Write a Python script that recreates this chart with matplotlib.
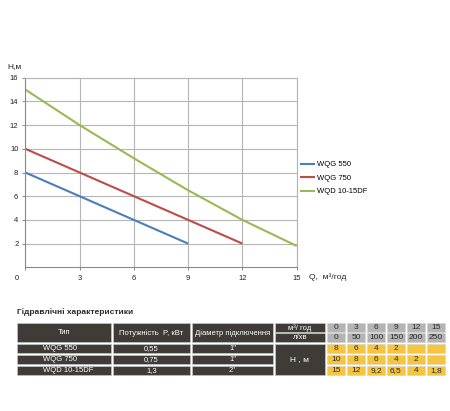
import matplotlib
matplotlib.use("Agg")
import matplotlib.pyplot as plt
from matplotlib.patches import Rectangle
from matplotlib.transforms import ScaledTranslation
from matplotlib import font_manager

# ---------------- data ----------------
q_values = [0, 3, 6, 9, 12, 15]
l_per_min = [0, 50, 100, 150, 200, 250]
series_names = ["WQG 550", "WQG 750", "WQD 10-15DF"]
h_wqg550 = [8, 6, 4, 2]
h_wqg750 = [10, 8, 6, 4, 2]
h_wqd = [15, 12, 9.2, 6.5, 4, 1.8]
powers = ["0,55", "0,75", "1,3"]
diameters = ['1"', '1"', '2"']
x_ticks = [0, 3, 6, 9, 12, 15]
y_ticks = [2, 4, 6, 8, 10, 12, 14, 16]
colors = ["#4a7ebb", "#be4b48", "#98b954"]

available = {f.name for f in font_manager.fontManager.ttflist}
chart_font = "Liberation Sans" if "Liberation Sans" in available else "DejaVu Sans"
table_font = "Liberation Sans Narrow" if "Liberation Sans Narrow" in available else chart_font
plt.rcParams["font.family"] = [chart_font, "DejaVu Sans"]

W, H = 450, 411
fig = plt.figure(figsize=(W / 100, H / 100), dpi=100)

# ---------------- chart ----------------
ax = fig.add_axes([25.3 / W, 1 - 267.3 / H, (296.7 - 25.3) / W, (267.3 - 77.7) / H])
all_h = [h_wqg550, h_wqg750, h_wqd]
for name, hs, c in zip(series_names, all_h, colors):
    ax.plot(q_values[:len(hs)], hs, color=c, lw=1.5, label=name, solid_capstyle="butt")
ax.set_xlim(0, 15)
ax.set_ylim(0, 16)
ax.set_xticks(x_ticks)
ax.set_yticks(y_ticks)
ax.set_xticklabels([str(v) for v in x_ticks])
ax.set_yticklabels([str(v) for v in y_ticks])
ax.grid(True, color="#b5b5b5", lw=0.8)
ax.set_axisbelow(True)
for s in ["top", "right"]:
    ax.spines[s].set_color("#b5b5b5")
    ax.spines[s].set_linewidth(0.8)
for s in ["left", "bottom"]:
    ax.spines[s].set_color("#8a8a8a")
    ax.spines[s].set_linewidth(0.8)
ax.tick_params(axis="both", length=2, width=0.7, color="#8a8a8a",
               labelsize=5.5, labelcolor="#222222")
ax.tick_params(axis="x", pad=3.5)
ax.tick_params(axis="y", pad=3)
# first x label sits left of origin (Excel style)
lbl0 = ax.get_xticklabels()[0]
lbl0.set_transform(lbl0.get_transform() + ScaledTranslation(-8 / 100, 0, fig.dpi_scale_trans))

fig.text(7 / W, 1 - 67 / H, "Н,м", fontsize=6, va="center", ha="left", color="#222222")
fig.text(309 / W, 1 - 277 / H, "Q,  м³/год", fontsize=6, va="center", ha="left", color="#222222")

ax.legend(loc="upper left", bbox_to_anchor=(300 / W, 1 - 161 / H), bbox_transform=fig.transFigure,
          frameon=False, fontsize=5.5, handlelength=2.0, handletextpad=0.2,
          labelspacing=0.8, borderpad=0, borderaxespad=0)

# ---------------- table ----------------
tx = fig.add_axes([0, 0, 1, 1])
tx.set_xlim(0, W)
tx.set_ylim(H, 0)
tx.axis("off")

dark = "#3f3b37"
gray = "#b4b4b4"
yellow = "#f5c540"
tf = [table_font, "DejaVu Sans"]

def cell(x0, x1, y0, y1, fc, text="", tc="white", ha="center", pad=0, size=5.5):
    tx.add_patch(Rectangle((x0, y0), x1 - x0, y1 - y0, fc=fc, ec="#d0d0d0", lw=0.4))
    if text:
        xt = (x0 + x1) / 2 if ha == "center" else x0 + pad
        tx.text(xt, (y0 + y1) / 2 + 0.3, text, ha=ha, va="center", color=tc,
                fontsize=size, family=tf)

tx.text(17, 312, "Гідравлічні характеристики", fontsize=6, fontweight="bold",
        color="#2a2a2a", va="center", ha="left", family=tf)

col_edges = [(17, 111), (113, 190), (192, 273), (275, 325)]
num_x0 = 327
num_w, num_pitch = 18, 20
hdr = (323, 342)
sub = [(323, 332), (333, 342)]
rows = [(344, 353), (355, 364), (366, 375)]

cell(*col_edges[0], *hdr, dark, "Тип")
cell(*col_edges[1], *hdr, dark, "Потужність  P, кВт")
cell(*col_edges[2], *hdr, dark, "Діаметр підключення")
cell(*col_edges[3], *sub[0], dark, "м³/ год")
cell(*col_edges[3], *sub[1], dark, "л/хв")
for i, (qv, lv) in enumerate(zip(q_values, l_per_min)):
    x0 = num_x0 + i * num_pitch
    cell(x0, x0 + num_w, *sub[0], gray, str(qv), tc="#2a2a2a", size=6)
    cell(x0, x0 + num_w, *sub[1], gray, str(lv), tc="#2a2a2a", size=6)

cell(col_edges[3][0], col_edges[3][1], rows[0][0], rows[2][1], dark, "Н , м", size=6)
for r, (name, pw, dm, hs) in enumerate(zip(series_names, powers, diameters, all_h)):
    y0, y1 = rows[r]
    cell(*col_edges[0], y0, y1, dark, name, ha="left", pad=26)
    cell(*col_edges[1], y0, y1, dark, pw)
    cell(*col_edges[2], y0, y1, dark, dm)
    for i in range(len(q_values)):
        x0 = num_x0 + i * num_pitch
        txt = ("%g" % hs[i]).replace(".", ",") if i < len(hs) else ""
        cell(x0, x0 + num_w, y0, y1, yellow, txt, tc="#2a2a2a", size=6)

fig.savefig("out.png", dpi=100)
